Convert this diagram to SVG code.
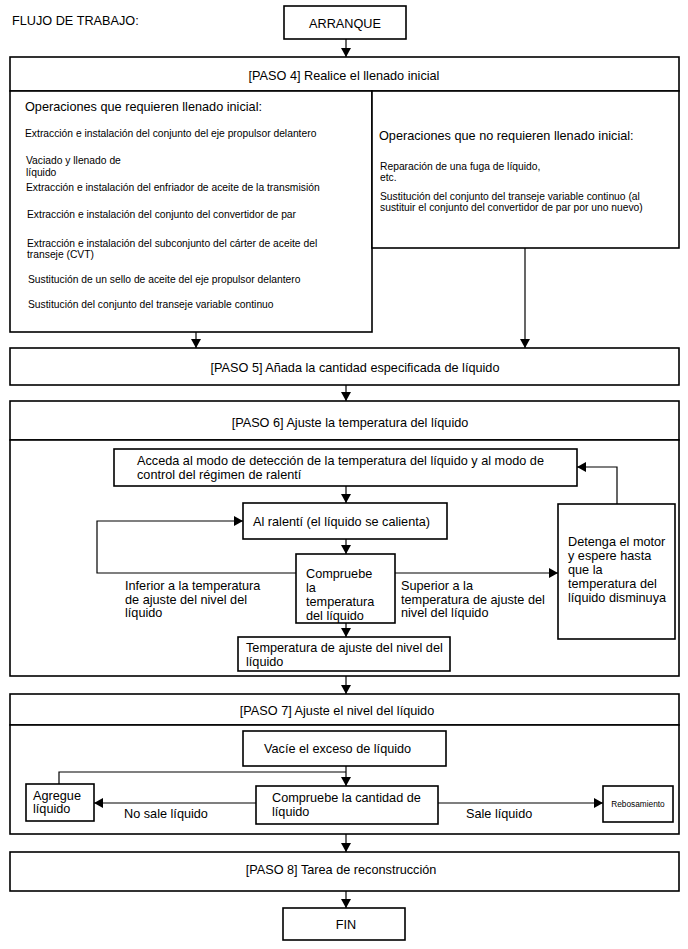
<svg xmlns="http://www.w3.org/2000/svg" width="688" height="949" viewBox="0 0 688 949">
<style>
.b{fill:#fff;stroke:#000;stroke-width:1.6}
.t{font-family:"Liberation Sans",Arial,sans-serif;font-size:12.7px;fill:#000}
.s{font-family:"Liberation Sans",Arial,sans-serif;font-size:10.3px;fill:#000}
.xs{font-family:"Liberation Sans",Arial,sans-serif;font-size:8.3px;fill:#000}
.c{text-anchor:middle}
.l{fill:none;stroke:#000;stroke-width:1.2}
</style>
<defs>
<marker id="ah" markerUnits="userSpaceOnUse" markerWidth="9" markerHeight="10" refX="9" refY="5" orient="auto">
<path d="M0,0 L9,5 L0,10 z" fill="#000"/>
</marker>
</defs>
<rect width="688" height="949" fill="#fff"/>
<text class="t" x="12" y="25">FLUJO DE TRABAJO:</text>

<g id="arranque"><rect class="b" x="284" y="6" width="122" height="33"/><text class="t c" x="345" y="28">ARRANQUE</text></g>

<g id="paso4">
<rect class="b" x="10" y="57" width="669" height="34"/>
<text class="t c" x="344" y="80">[PASO 4] Realice el llenado inicial</text>
</g>
<g id="paso4-izq">
<rect class="b" x="10" y="91" width="362" height="241"/>
<text class="t" x="25" y="111">Operaciones que requieren llenado inicial:</text>
<text class="s" x="25" y="137">Extracción e instalación del conjunto del eje propulsor delantero</text>
<text class="s" x="26" y="164">Vaciado y llenado de</text>
<text class="s" x="26" y="176">líquido</text>
<text class="s" x="26" y="191">Extracción e instalación del enfriador de aceite de la transmisión</text>
<text class="s" x="27" y="218">Extracción e instalación del conjunto del convertidor de par</text>
<text class="s" x="27" y="247">Extracción e instalación del subconjunto del cárter de aceite del</text>
<text class="s" x="27" y="258">transeje (CVT)</text>
<text class="s" x="28" y="283">Sustitución de un sello de aceite del eje propulsor delantero</text>
<text class="s" x="28" y="308">Sustitución del conjunto del transeje variable continuo</text>
</g>
<g id="paso4-der">
<rect class="b" x="372" y="91" width="307" height="157"/>
<text class="t" x="379" y="140">Operaciones que no requieren llenado inicial:</text>
<text class="s" x="380" y="170">Reparación de una fuga de líquido,</text>
<text class="s" x="380" y="181">etc.</text>
<text class="s" x="380" y="200">Sustitución del conjunto del transeje variable continuo (al</text>
<text class="s" x="380" y="211">sustituir el conjunto del convertidor de par por uno nuevo)</text>
</g>

<g id="paso5">
<rect class="b" x="10" y="348" width="669" height="37"/>
<text class="t c" x="355" y="372">[PASO 5] Añada la cantidad especificada de líquido</text>
</g>

<g id="paso6">
<rect class="b" x="10" y="401" width="669" height="39"/>
<text class="t c" x="350" y="427">[PASO 6] Ajuste la temperatura del líquido</text>
<rect class="b" x="10" y="440" width="669" height="236"/>
</g>
<g id="acceda">
<rect class="b" x="114" y="449" width="463" height="37"/>
<text class="t" x="137" y="465">Acceda al modo de detección de la temperatura del líquido y al modo de</text>
<text class="t" x="137" y="479">control del régimen de ralentí</text>
</g>
<g id="ralenti">
<rect class="b" x="243" y="503" width="204" height="36"/>
<text class="t" x="253" y="526">Al ralentí (el líquido se calienta)</text>
</g>
<g id="compruebe-temp">
<rect class="b" x="296" y="554" width="99" height="69"/>
<text class="t" x="306" y="578">Compruebe</text>
<text class="t" x="306" y="592">la</text>
<text class="t" x="306" y="606">temperatura</text>
<text class="t" x="306" y="620">del líquido</text>
</g>
<g id="temp-ajuste">
<rect class="b" x="238" y="637" width="212" height="34"/>
<text class="t" x="246" y="652">Temperatura de ajuste del nivel del</text>
<text class="t" x="246" y="666">líquido</text>
</g>
<g id="detenga">
<rect class="b" x="558" y="504" width="117" height="135"/>
<text class="t" x="568" y="546">Detenga el motor</text>
<text class="t" x="568" y="560">y espere hasta</text>
<text class="t" x="568" y="574">que la</text>
<text class="t" x="568" y="588">temperatura del</text>
<text class="t" x="568" y="602">líquido disminuya</text>
</g>

<g id="paso7">
<rect class="b" x="10" y="694" width="669" height="31"/>
<text class="t c" x="337" y="715">[PASO 7] Ajuste el nivel del líquido</text>
<rect class="b" x="10" y="725" width="669" height="109"/>
</g>
<g id="vacie">
<rect class="b" x="243" y="731" width="203" height="35"/>
<text class="t" x="264" y="753">Vacíe el exceso de líquido</text>
</g>
<g id="compruebe-cant">
<rect class="b" x="256" y="786" width="182" height="38"/>
<text class="t" x="272" y="802">Compruebe la cantidad de</text>
<text class="t" x="272" y="816">líquido</text>
</g>
<g id="agregue">
<rect class="b" x="26" y="784" width="68" height="37"/>
<text class="t" x="33" y="800">Agregue</text>
<text class="t" x="33" y="813">líquido</text>
</g>
<g id="rebosamiento">
<rect class="b" x="603" y="786" width="70" height="36"/>
<text class="xs c" x="638" y="807">Rebosamiento</text>
</g>

<g id="paso8">
<rect class="b" x="10" y="852" width="669" height="39"/>
<text class="t c" x="341" y="874">[PASO 8] Tarea de reconstrucción</text>
</g>
<g id="fin"><rect class="b" x="283" y="908" width="122" height="32"/><text class="t c" x="346" y="929">FIN</text></g>

<g id="connectors">
<line class="l" x1="346" y1="39" x2="346" y2="57" marker-end="url(#ah)"/>
<line class="l" x1="196" y1="332" x2="196" y2="348" marker-end="url(#ah)"/>
<line class="l" x1="525" y1="248" x2="525" y2="348" marker-end="url(#ah)"/>
<line class="l" x1="346" y1="385" x2="346" y2="401" marker-end="url(#ah)"/>
<line class="l" x1="346" y1="486" x2="346" y2="503" marker-end="url(#ah)"/>
<line class="l" x1="346" y1="539" x2="346" y2="554" marker-end="url(#ah)"/>
<line class="l" x1="346" y1="623" x2="346" y2="637" marker-end="url(#ah)"/>
<polyline class="l" points="296,573 97,573 97,521 243,521" marker-end="url(#ah)"/>
<line class="l" x1="395" y1="573" x2="558" y2="573" marker-end="url(#ah)"/>
<polyline class="l" points="617,504 617,467 577,467" marker-end="url(#ah)"/>
<line class="l" x1="346" y1="676" x2="346" y2="694" marker-end="url(#ah)"/>
<line class="l" x1="346" y1="766" x2="346" y2="786" marker-end="url(#ah)"/>
<polyline class="l" points="346,772 59,772 59,784"/>
<line class="l" x1="256" y1="803" x2="94" y2="803" marker-end="url(#ah)"/>
<line class="l" x1="438" y1="803" x2="603" y2="803" marker-end="url(#ah)"/>
<line class="l" x1="346" y1="834" x2="346" y2="852" marker-end="url(#ah)"/>
<line class="l" x1="346" y1="891" x2="346" y2="908" marker-end="url(#ah)"/>
<text class="t" x="125" y="590">Inferior a la temperatura</text>
<text class="t" x="125" y="604">de ajuste del nivel del</text>
<text class="t" x="125" y="617">líquido</text>
<text class="t" x="401" y="590">Superior a la</text>
<text class="t" x="401" y="604">temperatura de ajuste del</text>
<text class="t" x="401" y="617">nivel del líquido</text>
<text class="t" x="124" y="818">No sale líquido</text>
<text class="t" x="466" y="818">Sale líquido</text>
</g>
</svg>
